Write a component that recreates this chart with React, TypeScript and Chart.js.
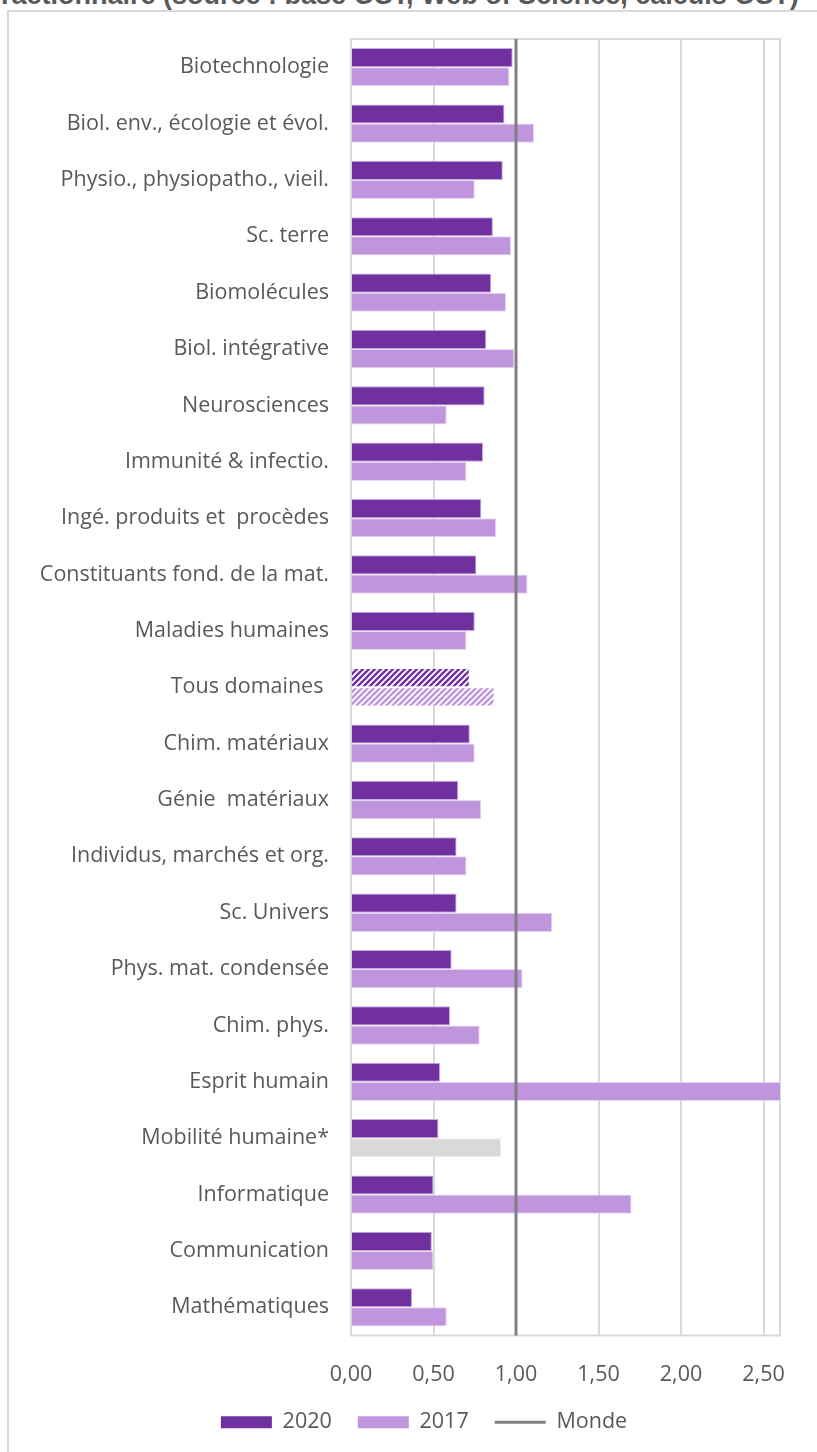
import React, { useEffect, useRef } from 'react';
import { Chart, registerables } from 'chart.js';

Chart.register(...registerables);

const categories = [
  'Biotechnologie',
  'Biol. env., écologie et évol.',
  'Physio., physiopatho., vieil.',
  'Sc. terre',
  'Biomolécules',
  'Biol. intégrative',
  'Neurosciences',
  'Immunité & infectio.',
  'Ingé. produits et  procèdes',
  'Constituants fond. de la mat.',
  'Maladies humaines',
  'Tous domaines ',
  'Chim. matériaux',
  'Génie  matériaux',
  'Individus, marchés et org.',
  'Sc. Univers',
  'Phys. mat. condensée',
  'Chim. phys.',
  'Esprit humain',
  'Mobilité humaine*',
  'Informatique',
  'Communication',
  'Mathématiques',
];

const values2020 = [
  0.98, 0.93, 0.92, 0.86, 0.85, 0.82, 0.81, 0.8, 0.79, 0.76, 0.75, 0.72,
  0.72, 0.65, 0.64, 0.64, 0.61, 0.6, 0.54, 0.53, 0.5, 0.49, 0.37,
];

const values2017 = [
  0.96, 1.11, 0.75, 0.97, 0.94, 0.99, 0.58, 0.7, 0.88, 1.07, 0.7, 0.87,
  0.75, 0.79, 0.7, 1.22, 1.04, 0.78, 2.75, 0.91, 1.7, 0.5, 0.58,
];

const seriesLabels = ['2020', '2017'];
const mondeLabel = 'Monde';
const mondeValue = 1;
const hatchedIndex = 11; // Tous domaines
const grayIndex = 19; // Mobilité humaine*
const xMin = 0;
const xMax = 2.6;
const xStep = 0.5;

const titleText = 'fractionnaire (source : base OST, Web of Science, calculs OST)';

const C2020 = '#7030a0';
const C2017 = '#bf95de';
const CGRAY = '#d9d9d9';
const TEXT = '#595959';
const FONT = "'Open Sans', sans-serif";

function makeHatch(ctx: CanvasRenderingContext2D, color: string) {
  const c = document.createElement('canvas');
  c.width = 6;
  c.height = 6;
  const g = c.getContext('2d')!;
  g.fillStyle = '#ffffff';
  g.fillRect(0, 0, 6, 6);
  g.strokeStyle = color;
  g.lineWidth = 2.4;
  g.beginPath();
  g.moveTo(-3, 3);
  g.lineTo(3, -3);
  g.moveTo(0, 6);
  g.lineTo(6, 0);
  g.moveTo(3, 9);
  g.lineTo(9, 3);
  g.stroke();
  return ctx.createPattern(c, 'repeat') as CanvasPattern;
}

const framePlugin = {
  id: 'frameAndMonde',
  afterLayout(chart: any) {
    if (chart.legend) {
      chart.legend.left += 68;
    }
  },
  beforeDatasetsDraw(chart: any) {
    const { ctx, chartArea: a } = chart;
    ctx.save();
    ctx.strokeStyle = CGRAY;
    ctx.lineWidth = 2;
    ctx.strokeRect(a.left, a.top, a.right - a.left, a.bottom - a.top);
    ctx.restore();
  },
  afterDatasetsDraw(chart: any) {
    const { ctx, chartArea: a } = chart;
    const x = chart.scales.x.getPixelForValue(mondeValue);
    ctx.save();
    ctx.strokeStyle = '#7f7f7f';
    ctx.lineWidth = 3;
    ctx.beginPath();
    ctx.moveTo(x, a.top);
    ctx.lineTo(x, a.bottom);
    ctx.stroke();
    ctx.restore();
  },
};

export default function App() {
  const ref = useRef<HTMLCanvasElement>(null);

  useEffect(() => {
    const canvas = ref.current!;
    const ctx = canvas.getContext('2d')!;
    const hatch2020 = makeHatch(ctx, C2020);
    const hatch2017 = makeHatch(ctx, C2017);

    const bg2020 = values2020.map((_, i) => (i === hatchedIndex ? hatch2020 : C2020));
    const bg2017 = values2017.map((_, i) =>
      i === hatchedIndex ? hatch2017 : i === grayIndex ? CGRAY : C2017
    );
    const bd2020 = values2020.map((_, i) => (i === hatchedIndex ? 'rgba(0,0,0,0)' : '#c7acdf'));
    const bd2017 = values2017.map((_, i) =>
      i === hatchedIndex ? 'rgba(0,0,0,0)' : i === grayIndex ? '#eeeeee' : '#e6d7f3'
    );

    const chart = new Chart(canvas, {
      type: 'bar',
      data: {
        labels: categories,
        datasets: [
          {
            label: seriesLabels[0],
            data: values2020,
            backgroundColor: bg2020 as any,
            borderColor: bd2020,
            borderWidth: 1,
            categoryPercentage: 0.68,
            barPercentage: 1,
          },
          {
            label: seriesLabels[1],
            data: values2017,
            backgroundColor: bg2017 as any,
            borderColor: bd2017,
            borderWidth: 1,
            categoryPercentage: 0.68,
            barPercentage: 1,
          },
        ],
      },
      options: {
        indexAxis: 'y',
        animation: false,
        responsive: false,
        maintainAspectRatio: false,
        layout: { padding: { top: 39, right: 37, bottom: 9, left: 0 } },
        scales: {
          x: {
            min: xMin,
            max: xMax,
            grid: { color: CGRAY, lineWidth: 2, drawTicks: false },
            border: { display: false },
            ticks: {
              stepSize: xStep,
              includeBounds: false,
              padding: 26,
              color: TEXT,
              font: { family: FONT, size: 21.5 },
              callback: (v: any) => Number(v).toFixed(2).replace('.', ','),
            },
            afterFit: (s: any) => {
              s.height = 50;
            },
          },
          y: {
            grid: { display: false, drawTicks: false },
            border: { display: false },
            ticks: {
              padding: 22,
              color: TEXT,
              font: { family: FONT, size: 21.5 },
              autoSkip: false,
            },
            afterFit: (s: any) => {
              s.width = 351;
            },
          },
        },
        plugins: {
          tooltip: { enabled: false },
          legend: {
            position: 'bottom',
            labels: {
              usePointStyle: true,
              pointStyleWidth: 51,
              boxHeight: 12,
              padding: 26,
              color: TEXT,
              font: { family: FONT, size: 21.5 },
              generateLabels: () => [
                {
                  text: seriesLabels[0],
                  fillStyle: C2020,
                  strokeStyle: C2020,
                  lineWidth: 0,
                  pointStyle: 'rect',
                  hidden: false,
                  fontColor: TEXT,
                },
                {
                  text: seriesLabels[1],
                  fillStyle: C2017,
                  strokeStyle: C2017,
                  lineWidth: 0,
                  pointStyle: 'rect',
                  hidden: false,
                  fontColor: TEXT,
                },
                {
                  text: mondeLabel,
                  fillStyle: 'rgba(0,0,0,0)',
                  strokeStyle: '#7f7f7f',
                  lineWidth: 3,
                  pointStyle: 'line',
                  hidden: false,
                  fontColor: TEXT,
                },
              ] as any,
            },
          },
        },
      } as any,
      plugins: [framePlugin],
    });
    return () => chart.destroy();
  }, []);

  return (
    <div
      style={{
        position: 'absolute',
        left: 0,
        top: 0,
        width: 817,
        height: 1452,
        overflow: 'hidden',
        background: '#ffffff',
      }}
    >
      <div
        style={{
          position: 'absolute',
          left: -8,
          top: -18,
          whiteSpace: 'nowrap',
          fontFamily: "'Liberation Sans', Arial, sans-serif",
          fontWeight: 'bold',
          fontSize: 27,
          lineHeight: '27px',
          color: TEXT,
        }}
      >
        {titleText}
      </div>
      <div
        style={{
          position: 'absolute',
          left: 7,
          top: 10,
          width: 900,
          height: 1600,
          borderLeft: '2px solid #d9d9d9',
          borderTop: '2px solid #d9d9d9',
        }}
      />
      <canvas
        ref={ref}
        width={817}
        height={1452}
        style={{ position: 'absolute', left: 0, top: 0, width: 817, height: 1452 }}
      />
    </div>
  );
}
